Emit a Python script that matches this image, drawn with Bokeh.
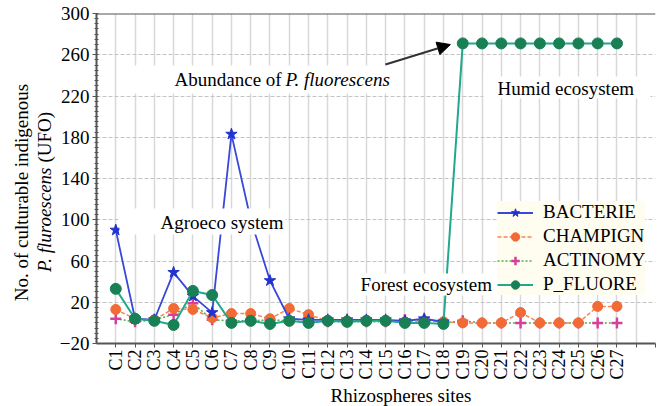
import math
import numpy as np
from bokeh.plotting import figure
from bokeh.layouts import row
from bokeh.models import (FixedTicker, Label, BoxAnnotation, Arrow, NormalHead,
                          Legend, LegendItem, Range1d, ColumnDataSource, Span, Title)
from bokeh.embed import file_html
from bokeh.resources import INLINE

# ---------------- data ----------------
sites = ["C1", "C2", "C3", "C4", "C5", "C6", "C7", "C8", "C9", "C10",
         "C11", "C12", "C13", "C14", "C15", "C16", "C17", "C18", "C19", "C20",
         "C21", "C22", "C23", "C24", "C25", "C26", "C27"]
nan = float("nan")
bacterie = [90, 4, 3, 49, 26, 10, 183, 100, 41, 4, 3, 3, 3, 3, 3, 2, 4, 1,
            nan, nan, nan, nan, nan, nan, nan, nan, nan]
champign = [13, 4, 3, 14, 13, 5, 9, 9, 4, 14, 8, 2, 2, 2, 2, 1, 2, 1,
            0, 0, 0, 10, 0, 0, 0, 16, 16]
actinomy = [4, 1, 3, 8, 19, 3, 2, 2, 3, 2, 1, 1, 1, 1, 1, 3, 3, 0,
            2, 0, 0, 0, 0, 0, 0, 0, 0]
p_fluore = [33, 4, 2, -2, 31, 27, 0, 2, -1, 2, 0, 2, 1, 2, 2, 0, 0, -1,
            271, 271, 271, 271, 271, 271, 271, 271, 271]
y_ticks = [-20, 20, 60, 100, 140, 180, 220, 260, 300]

FONT = "Liberation Serif"

x = list(range(1, len(sites) + 1))
src = ColumnDataSource(dict(
    x=x,
    bac=np.array(bacterie, dtype=float),
    cha=np.array(champign, dtype=float),
    act=np.array(actinomy, dtype=float),
    flu=np.array(p_fluore, dtype=float),
))

# ---------------- left strip holding the two-line y title ----------------
# In a row, the frames are aligned with the main chart's frame (13 px top,
# 63 px bottom), so the strip's y range is set to match pixel rows 13..343.
LW = 56
TOP, BOTTOM = 13, 63
lp = figure(width=LW, height=406, output_backend="svg", toolbar_location=None,
            x_range=Range1d(0, LW), y_range=Range1d(BOTTOM, 406 - TOP),
            x_axis_location=None, y_axis_location=None, title=None,
            min_border=0, min_border_left=0, min_border_right=0,
            min_border_top=TOP, min_border_bottom=BOTTOM)
lp.grid.visible = False
lp.outline_line_color = None
lp.background_fill_color = "white"
lp.border_fill_color = "white"


def ylab(xv, ypix, text, style="normal", align="center"):
    lp.add_layout(Label(x=xv, y=406 - ypix, text=text, text_font=FONT,
                        text_font_size="19px", text_font_style=style,
                        text_align=align, text_baseline="middle",
                        text_color="black", angle=math.pi / 2))


ylab(21, 192, "No. of culturable indigenous")
ylab(44, 167, "P. fluroescens", style="italic", align="right")
ylab(44, 162, "(UFO)", align="left")

# ---------------- main chart ----------------
p = figure(width=657 - LW, height=406, output_backend="svg", toolbar_location=None,
           x_range=Range1d(0, 29), y_range=Range1d(-20, 300),
           min_border_left=96 - LW, min_border_right=2, min_border_top=TOP,
           min_border_bottom=BOTTOM)
p.outline_line_color = None
p.background_fill_color = "white"
p.border_fill_color = "white"

all_x_ticks = list(range(1, 30))
overrides = {i: s for i, s in zip(x, sites)}
overrides[28] = ""
overrides[29] = ""

xax = p.xaxis[0]
xax.ticker = FixedTicker(ticks=all_x_ticks)
xax.major_label_overrides = overrides
xax.major_label_orientation = math.pi / 2
xax.major_label_text_font = FONT
xax.major_label_text_font_size = "18px"
xax.major_label_text_color = "black"
xax.major_label_standoff = 2
xax.axis_line_color = "#555555"
xax.axis_line_width = 2
xax.major_tick_line_color = "#555555"
xax.major_tick_out = 4
xax.major_tick_in = 0
xax.minor_tick_line_color = None

yax = p.yaxis[0]
yax.ticker = FixedTicker(ticks=y_ticks, minor_ticks=list(range(-20, 301, 5)))
yax.major_label_text_font = FONT
yax.major_label_text_font_size = "19px"
yax.major_label_text_color = "black"
yax.major_label_standoff = 3
yax.axis_line_color = "#555555"
yax.axis_line_width = 2
yax.major_tick_line_color = "#555555"
yax.major_tick_out = 4
yax.major_tick_in = 0
yax.minor_tick_line_color = "#555555"
yax.minor_tick_out = 2
yax.minor_tick_in = 2

p.add_layout(Title(text="Rhizospheres sites", align="left", offset=234,
                   text_font=FONT, text_font_size="19px", text_font_style="normal",
                   text_color="black", standoff=0), "below")

p.xgrid.ticker = FixedTicker(ticks=all_x_ticks)
p.xgrid.grid_line_color = "#d8d8d8"
p.xgrid.grid_line_width = 1.5
p.ygrid.ticker = FixedTicker(ticks=y_ticks)
p.ygrid.grid_line_color = "#c4c4c4"
p.ygrid.grid_line_dash = "4 2"
p.ygrid.grid_line_width = 1

p.add_layout(Span(location=300, dimension="width", line_color="#555555",
                  line_width=2))

# ---------------- series ----------------
act_l = p.line("x", "act", source=src, line_color="#4cae4c", line_width=1.5,
               line_dash="2 2")
act_m = p.scatter("x", "act", source=src, marker="cross", size=11,
                  line_color="#d6409a", line_width=2.5)

cha_l = p.line("x", "cha", source=src, line_color="#f2865a", line_width=1.5,
               line_dash="4 2")
cha_m = p.scatter("x", "cha", source=src, marker="circle", size=10,
                  fill_color="#f26a36", line_color="#f26a36")

bac_l = p.line("x", "bac", source=src, line_color="#3848d8", line_width=1.8)
bac_m = p.scatter("x", "bac", source=src, marker="star", size=12,
                  fill_color="#2233cc", line_color="#2233cc")

flu_l = p.line("x", "flu", source=src, line_color="#22a88e", line_width=2)
flu_m = p.scatter("x", "flu", source=src, marker="circle", size=11,
                  fill_color="#198055", line_color="#198055")

# ---------------- annotations ----------------
def box(l, r, t, b):
    p.add_layout(BoxAnnotation(left=l, right=r, top=t, bottom=b,
                               fill_color="white", fill_alpha=1.0,
                               line_color=None))

box(1.76, 15.41, 249.6, 222.4)    # Abundance
box(20.08, 28.74, 238.9, 217.6)   # Humid
box(1.19, 9.80, 110.9, 85.7)      # Agroeco
box(13.44, 20.70, 47.9, 26.5)     # Forest


def lab(xv, yv, text, style="normal", align="left"):
    p.add_layout(Label(x=xv, y=yv, text=text, text_font=FONT,
                       text_font_size="19px", text_font_style=style,
                       text_align=align, text_baseline="middle",
                       text_color="black"))


lab(4.05, 236.0, "Abundance of ")
lab(9.80, 236.0, "P. fluorescens", style="italic")
lab(20.80, 227.3, "Humid ecosystem")
lab(3.32, 97.3, "Agroeco system")
lab(13.70, 37.2, "Forest ecosystem")

p.add_layout(Arrow(end=NormalHead(size=13, fill_color="black", line_color="black"),
                   x_start=14.99, y_start=250.5, x_end=18.36, y_end=269.9,
                   line_color="#333333", line_width=2))

# ---------------- legend ----------------
legend = Legend(items=[
    LegendItem(label="BACTERIE", renderers=[bac_l, bac_m]),
    LegendItem(label="CHAMPIGN", renderers=[cha_l, cha_m]),
    LegendItem(label="ACTINOMY", renderers=[act_l, act_m]),
    LegendItem(label="P_FLUORE", renderers=[flu_l, flu_m]),
], location=(401, 48))
legend.label_text_font = FONT
legend.label_text_font_size = "19px"
legend.label_text_color = "black"
legend.label_height = 21
legend.glyph_height = 21
legend.glyph_width = 36
legend.spacing = 2
legend.padding = 4
legend.margin = 0
legend.label_standoff = 10
legend.border_line_color = None
legend.background_fill_color = "#fffcf0"
legend.background_fill_alpha = 1.0
p.add_layout(legend)

layout = row(lp, p, spacing=0)
open("out.html", "w").write(file_html(layout, INLINE))
